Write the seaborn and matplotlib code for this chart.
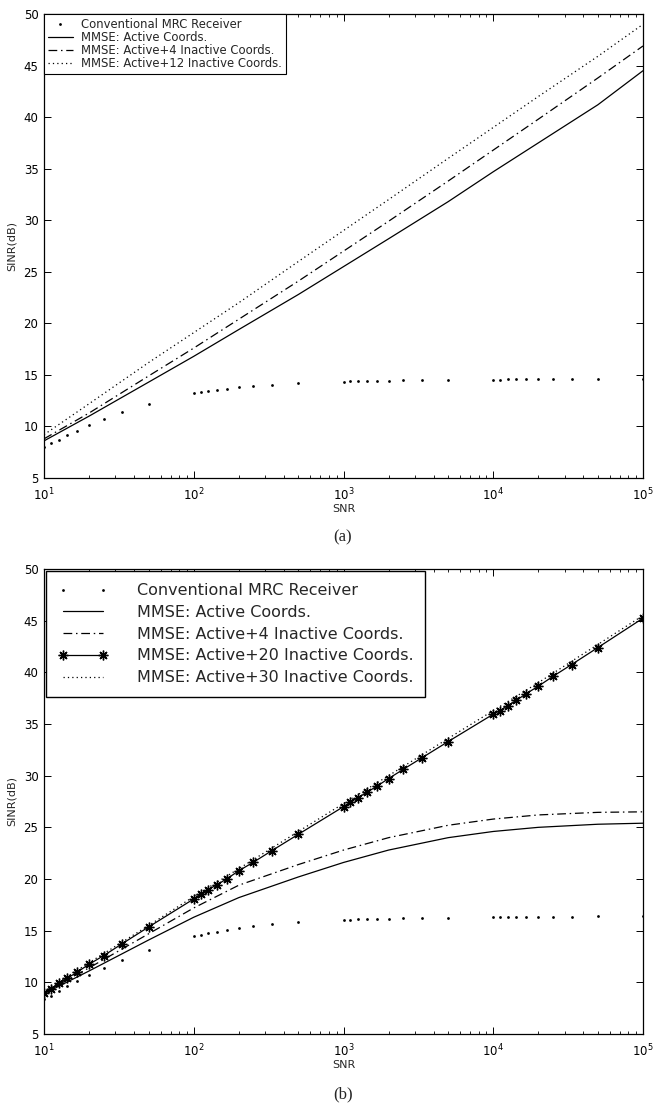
import matplotlib
matplotlib.use("Agg")
import matplotlib.pyplot as plt
import seaborn as sns
import pandas as pd

# ---------------- data ----------------
snr_pts = [10, 11.1, 12.5, 14.3, 16.7, 20, 25, 33.3, 50,
           100, 111, 125, 143, 167, 200, 250, 333, 500,
           1000, 1111, 1250, 1429, 1667, 2000, 2500, 3333, 5000,
           10000, 11111, 12500, 14286, 16667, 20000, 25000, 33333, 50000,
           100000]

mrc_a = [8.0, 8.35, 8.7, 9.15, 9.6, 10.15, 10.7, 11.4, 12.2,
         13.2, 13.3, 13.4, 13.5, 13.65, 13.8, 13.9, 14.05, 14.2,
         14.35, 14.37, 14.38, 14.4, 14.42, 14.44, 14.46, 14.48, 14.5,
         14.55, 14.55, 14.56, 14.56, 14.57, 14.57, 14.58, 14.59, 14.6,
         14.62]

mrc_b = [8.36, 8.68, 9.13, 9.62, 10.1, 10.74, 11.39, 12.2, 13.16,
         14.49, 14.58, 14.75, 14.9, 15.1, 15.29, 15.45, 15.62, 15.84,
         16.05, 16.08, 16.1, 16.12, 16.15, 16.17, 16.2, 16.23, 16.27,
         16.3, 16.31, 16.32, 16.33, 16.34, 16.35, 16.36, 16.37, 16.4,
         16.45]

act20_b = [9.0, 9.35, 9.94, 10.39, 11.0, 11.75, 12.58, 13.74, 15.36,
           18.07, 18.52, 18.97, 19.45, 20.03, 20.8, 21.62, 22.75, 24.33,
           27.0, 27.42, 27.88, 28.38, 28.97, 29.72, 30.6, 31.72, 33.3,
           35.95, 36.3, 36.78, 37.3, 37.95, 38.66, 39.6, 40.75, 42.4,
           45.24]

snr_curve = [10, 20, 50, 100, 200, 500, 1000, 2000, 5000, 10000, 20000, 50000, 100000]

act_a = [8.6, 11.0, 14.3, 16.8, 19.4, 22.8, 25.5, 28.2, 31.8, 34.7, 37.5, 41.2, 44.5]
act4_a = [8.8, 11.3, 14.9, 17.6, 20.4, 24.1, 27.0, 29.9, 33.8, 36.8, 39.8, 43.8, 46.9]
act12_a = [9.2, 12.2, 16.2, 19.1, 22.0, 26.0, 29.0, 32.0, 36.0, 39.0, 42.0, 45.9, 49.0]

act_b = [8.9, 11.1, 14.1, 16.3, 18.2, 20.2, 21.6, 22.8, 24.0, 24.6, 25.0, 25.3, 25.4]
act4_b = [9.0, 11.4, 14.7, 17.2, 19.4, 21.4, 22.8, 24.0, 25.2, 25.8, 26.2, 26.45, 26.5]
act30_b = [9.1, 11.9, 15.5, 18.3, 21.0, 24.6, 27.3, 30.0, 33.6, 36.3, 39.0, 42.7, 45.5]

yticks = [5, 10, 15, 20, 25, 30, 35, 40, 45, 50]

lab_mrc = "Conventional MRC Receiver"
lab_act = "MMSE: Active Coords."
lab_a4 = "MMSE: Active+4 Inactive Coords."
lab_a12 = "MMSE: Active+12 Inactive Coords."
lab_a20 = "MMSE: Active+20 Inactive Coords."
lab_a30 = "MMSE: Active+30 Inactive Coords."

# ---------------- style ----------------
sns.set_theme(style="ticks")
plt.rcParams["font.family"] = ["DejaVu Sans"]
plt.rcParams["axes.edgecolor"] = "black"
plt.rcParams["axes.linewidth"] = 0.9

W, H = 654, 1109
fig = plt.figure(figsize=(W / 100, H / 100), dpi=100)
fig.patch.set_facecolor("white")

def make_ax(top_px, bot_px):
    left, right = 44, 643
    return fig.add_axes([left / W, 1 - bot_px / H, (right - left) / W, (bot_px - top_px) / H])

ax1 = make_ax(14, 478)
ax2 = make_ax(569, 1034)

dd = (0, (7, 3, 1.2, 3))
dot = (0, (1, 2.5))

def style_ax(ax):
    ax.set_xscale("log")
    ax.set_xlim(10, 1e5)
    ax.set_ylim(5, 50)
    ax.set_yticks(yticks)
    ax.tick_params(which="both", direction="in", top=True, right=True,
                   colors="black", labelsize=8.5)
    ax.tick_params(axis="x", which="both", pad=6)
    ax.tick_params(axis="y", which="both", pad=4)
    ax.tick_params(which="major", length=5, width=0.7)
    ax.tick_params(which="minor", length=2.5, width=0.6)
    ax.set_facecolor("white")
    for s in ax.spines.values():
        s.set_color("black")
        s.set_linewidth(0.9)
    ax.set_xlabel("SNR", fontsize=8, labelpad=1)
    ax.set_ylabel("SINR(dB)", fontsize=8, labelpad=5)

# ---- panel (a)
sns.lineplot(x=snr_pts, y=mrc_a, ax=ax1, color="black", linestyle="none",
             marker=".", markersize=4, markeredgewidth=0, label=lab_mrc)
sns.lineplot(x=snr_curve, y=act_a, ax=ax1, color="black", linewidth=0.9, label=lab_act)
sns.lineplot(x=snr_curve, y=act4_a, ax=ax1, color="black", linewidth=0.9,
             linestyle=dd, label=lab_a4)
sns.lineplot(x=snr_curve, y=act12_a, ax=ax1, color="black", linewidth=0.9,
             linestyle=dot, label=lab_a12)
style_ax(ax1)
leg1 = ax1.legend(loc="upper left", fontsize=8.4, frameon=True, fancybox=False,
                  framealpha=1, edgecolor="black", borderaxespad=0.0,
                  numpoints=1, handlelength=2.1, handletextpad=0.7,
                  borderpad=0.35, labelspacing=0.0)
leg1.get_frame().set_linewidth(0.8)

# ---- panel (b)
sns.lineplot(x=snr_pts, y=mrc_b, ax=ax2, color="black", linestyle="none",
             marker=".", markersize=4, markeredgewidth=0, label=lab_mrc)
sns.lineplot(x=snr_curve, y=act_b, ax=ax2, color="black", linewidth=0.9, label=lab_act)
sns.lineplot(x=snr_curve, y=act4_b, ax=ax2, color="black", linewidth=0.9,
             linestyle=dd, label=lab_a4)
sns.lineplot(x=snr_pts, y=act20_b, ax=ax2, color="black", linewidth=0.9,
             marker=(8, 2, 0), markersize=7, markeredgewidth=1.0,
             markeredgecolor="black", label=lab_a20)
sns.lineplot(x=snr_curve, y=act30_b, ax=ax2, color="black", linewidth=0.9,
             linestyle=dot, label=lab_a30)
style_ax(ax2)
leg2 = ax2.legend(loc="upper left", fontsize=11.5, frameon=True, fancybox=False,
                  framealpha=1, edgecolor="black", borderaxespad=0.15,
                  numpoints=2, handlelength=3.1, handletextpad=1.8,
                  borderpad=0.75, labelspacing=0.42)
leg2.get_frame().set_linewidth(1.0)

fig.text(343 / W, 1 - 537 / H, "(a)", ha="center", va="center",
         family="Liberation Serif", fontsize=12)
fig.text(343 / W, 1 - 1094 / H, "(b)", ha="center", va="center",
         family="Liberation Serif", fontsize=12)

fig.savefig("out.png", dpi=100)
